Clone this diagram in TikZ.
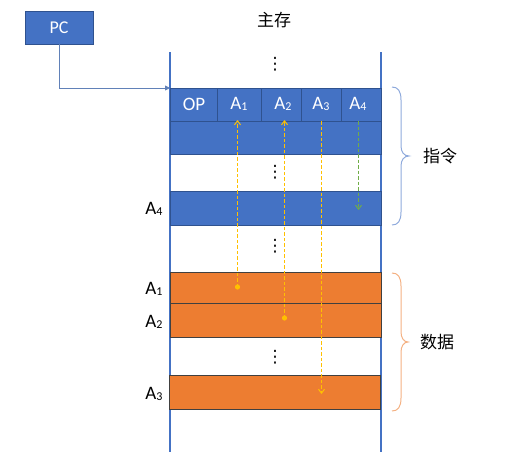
\documentclass[tikz,border=0pt]{standalone}
\usepackage{fontspec}
\setmainfont{Carlito}
\newfontfamily\cjk{Noto Sans CJK SC}
\newfontfamily\djv{DejaVu Sans}
\usetikzlibrary{arrows.meta}
\definecolor{mblue}{HTML}{4472C4}
\definecolor{dblue}{HTML}{2F528F}
\definecolor{morange}{HTML}{ED7D31}
\definecolor{myellow}{HTML}{FFC000}
\definecolor{mgreen}{HTML}{70AD47}
\definecolor{lblue}{HTML}{8FAADC}
\definecolor{lorange}{HTML}{F4B183}
\newcommand{\sub}[1]{\lower1.5pt\hbox{\fontsize{12}{12}\selectfont #1}}
\begin{document}
\begin{tikzpicture}[x=1pt,y=-1pt,
  bluerow/.style={draw=dblue,line width=0.8pt,fill=mblue,minimum width=211pt,inner sep=0pt},
  orangerow/.style={draw=black!75,line width=0.8pt,fill=morange,minimum width=211pt,inner sep=0pt},
  celltxt/.style={text=white,font=\fontsize{19}{19}\selectfont},
  lbl/.style={font=\fontsize{19}{19}\selectfont},
  vdots/.style={font=\djv\fontsize{17}{17}\selectfont},
  darr/.style={line width=1pt,dash pattern=on 3.5pt off 2pt,-{Straight Barb[length=4pt,width=6pt]}},
  mem/.style={draw=mblue,line width=1.8pt}]
\useasboundingbox (0,0) rectangle (506,466);
% memory columns
\coordinate (lt) at (170,52); \coordinate (lb) at (170,452);
\coordinate (rt) at (381,52); \coordinate (rb) at (381,452);
\draw[mem] (lt) -- (lb);
\draw[mem] (rt) -- (rb);
\node[font=\cjk\fontsize{17}{17}\selectfont] (title) at (274,20) {主存};
% rows
\node[bluerow,minimum height=33pt] (r1) at (275.5,104.5) {};
\node[bluerow,minimum height=33pt] (r2) at (275.5,137.5) {};
\node[bluerow,minimum height=34pt] (r4) at (275.5,208) {};
\node[orangerow,minimum height=31pt] (d1) at (275.5,287.5) {};
\node[orangerow,minimum height=34pt] (d2) at (275.5,320.5) {};
\node[orangerow,minimum height=34pt] (d3) at (275,392) {};
% cell dividers
\foreach \x in {217,261,301,341} \draw[dblue,line width=0.8pt] (\x,88) -- (\x,121);
\node[celltxt] (op) at (194,104) {OP};
\node[celltxt] (a1) at (239,104) {A\sub{1}};
\node[celltxt] (a2) at (283,104) {A\sub{2}};
\node[celltxt] (a3) at (321,104) {A\sub{3}};
\node[celltxt] (a4) at (358,104) {A\sub{4}};
% dots
\node[vdots] (v0) at (275,64) {⋮};
\node[vdots] (v1) at (275,172) {⋮};
\node[vdots] (v2) at (275,246) {⋮};
\node[vdots] (v3) at (275,357) {⋮};
% left labels
\node[lbl] (la4) at (154,209) {A\sub{4}};
\node[lbl] (la1) at (154,289) {A\sub{1}};
\node[lbl] (la2) at (154,322) {A\sub{2}};
\node[lbl] (la3) at (154,394) {A\sub{3}};
% PC
\node[draw=dblue,line width=0.8pt,fill=mblue,minimum width=68pt,minimum height=33pt,inner sep=0pt,text=white,font=\fontsize{18}{18}\selectfont] (pc) at (59,27.5) {PC};
\coordinate (pcin) at (170,88);
\draw[mblue!85!black!80,line width=0.9pt,-{Triangle[length=5pt,width=5pt]}] (pc.south) |- (pcin);
% pointers
\coordinate (p1s) at (237.5,287); \coordinate (p1e) at (237.5,120);
\coordinate (p2s) at (284.5,318); \coordinate (p2e) at (284.5,120);
\coordinate (p3s) at (321.5,121); \coordinate (p3e) at (321.5,394);
\coordinate (p4s) at (358.5,121); \coordinate (p4e) at (358.5,210);
\draw[myellow,darr] (p1s) -- (p1e);
\draw[myellow,darr] (p2s) -- (p2e);
\draw[myellow,darr] (p3s) -- (p3e);
\draw[mgreen,darr] (p4s) -- (p4e);
\fill[myellow] (p1s) circle (2.6pt);
\fill[myellow] (p2s) circle (2.6pt);
% braces
\draw[lblue,line width=1pt] (392,87) .. controls (398,87) and (401,91) .. (401,100) -- (401,146) .. controls (401,152) and (404,156) .. (409,156) .. controls (404,156) and (401,160) .. (401,166) -- (401,212) .. controls (401,221) and (398,225) .. (392,225);
\draw[lorange,line width=1pt] (392,273) .. controls (398,273) and (401,277) .. (401,286) -- (401,332) .. controls (401,338) and (404,342) .. (408,342) .. controls (404,342) and (401,346) .. (401,352) -- (401,398) .. controls (401,407) and (398,411) .. (392,411);
\node[font=\cjk\fontsize{17}{17}\selectfont] (instr) at (440,156) {指令};
\node[font=\cjk\fontsize{17}{17}\selectfont] (data) at (437,342) {数据};
\end{tikzpicture}
\end{document}
